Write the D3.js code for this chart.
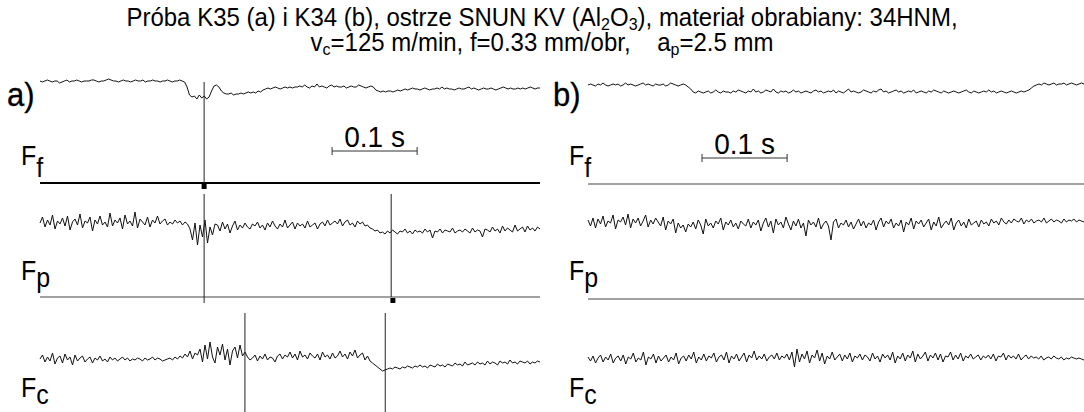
<!DOCTYPE html>
<html><head><meta charset="utf-8">
<script src="https://cdn.jsdelivr.net/npm/d3@7/dist/d3.min.js"></script>
<style>
body{margin:0;background:#fff}
svg{display:block}
text{font-family:"Liberation Sans",Arial,sans-serif;fill:#000}
</style>
</head><body>
<svg id="chart" width="1084" height="412"></svg>
<script>
// ---------- DATA (force signal, arbitrary units above each zero line) ----------
const titleLine1 = ["Próba K35 (a) i K34 (b), ostrze SNUN KV (Al", "2", "O", "3", "), materiał obrabiany: 34HNM,"];
const titleLine2 = ["v", "c", "=125 m/min, f=0.33 mm/obr,    a", "p", "=2.5 mm"];
const panelLabels = ["a)", "b)"];
const rowLabels = [["F","f"],["F","p"],["F","c"]];
const scaleLabel = "0.1 s";
const scaleBarLen = 0.1;             // s
const durationA = 0.588;             // s shown in panel a
const durationB = 0.583;             // s shown in panel b
const scaleBarStart = [0.3435, 0.134];  // s
const markersFfA = [0.193];
const markersFpA = [0.193, 0.413];
const markersFcA = [0.241, 0.406];
const squareMarkersA = [[0, 0.193], [1, 0.415]]; // [row, time]

const ffA = [102,101,102,103,102,101,102,102,100,101,102,103,101,102,102,103,102,101,102,102,
102,103,103,102,101,102,102,103,104,103,102,102,101,102,103,102,102,101,102,103,
102,102,103,101,102,102,103,102,102,101,102,102,103,102,101,102,102,103,102,101,
96,88,86,87,84,88,85,87,84,86,92,97,98,96,92,90,89,89,90,88,89,89,90,89,90,91,90,91,90,92,91,
93,94,95,94,95,96,95,94,95,96,95,96,95,96,
96,97,96,98,96,95,97,96,99,96,97,96,95,97,98,96,97,96,96,97,95,96,97,96,96,98,97,96,95,96,97,96,
93,92,91,92,91,92,92,91,92,93,92,93,
94,93,94,95,94,94,93,94,95,94,93,94,94,95,94,96,94,95,94,94,93,94,95,94,94,95,96,94,95,94,93,94,95,94,94,95,94,93,94,95,96,95,94,95,94,94,95,94,95,94,95,96,95,94,95,95];

const fpA = [74,80,70,77,72,82,68,76,73,79,71,81,67,75,78,72,83,69,76,74,80,66,77,73,81,72,75,70,84,71,77,74,79,68,82,73,76,71,85,69,78,75,72,80,70,77,74,81,73,76,78,72,75,73,77,74,76,72,75,73,
68,57,74,52,72,60,77,54,70,62,73,
72,66,75,68,73,64,71,76,67,72,69,74,70,68,73,71,75,69,72,67,74,70,76,71,68,73,70,77,69,72,75,68,74,71,73,69,76,70,72,74,68,73,75,71,77,72,74,76,73,78,71,75,77,72,74,70,76,73,75,71,72,69,68,66,67,
64,65,63,66,64,67,65,63,66,65,68,64,66,63,67,65,66,64,68,65,67,59,66,65,68,64,67,66,65,69,64,66,67,65,68,66,64,69,65,67,66,60,68,67,65,70,66,68,64,71,66,69,67,65,72,66,68,70,65,71,67,69,66,70,68];

const fcA = [53,57,50,55,51,59,48,54,56,49,58,52,55,47,57,51,54,56,50,53,55,49,54,52,56,51,53,50,55,52,54,51,53,55,52,54,51,53,52,54,53,51,54,52,53,55,52,54,53,51,52,53,54,52,55,53,56,54,58,55,61,53,59,57,
63,50,67,53,70,55,49,65,57,68,52,63,47,61,65,54,67,56,60,
55,52,54,57,51,56,53,58,52,55,54,50,56,58,53,57,55,60,54,58,52,61,55,57,53,59,56,54,58,52,60,55,57,53,59,54,56,61,55,58,53,60,56,62,54,57,59,52,56,51,49,47,45,43,41,
42,43,44,43,45,44,43,45,44,46,45,44,46,45,47,45,46,44,47,46,45,48,46,47,45,48,47,46,49,47,48,46,50,47,48,49,47,50,48,49,47,51,48,50,49,47,51,49,50,48,52,49,50,48,51,50,49,51,48,50,49,51,50];

const ffB = [99,100,99,98,100,99,101,99,98,99,100,99,100,98,99,101,99,100,99,98,99,100,101,99,100,99,98,100,99,99,100,98,99,101,100,99,98,99,100,99,97,95,
92,91,93,92,91,92,93,91,92,94,92,91,93,92,92,91,93,92,94,93,92,91,93,92,95,92,93,91,92,94,93,92,95,92,91,93,92,93,91,92,94,92,93,91,92,93,92,91,93,94,92,93,91,92,93,92,94,91,93,92,91,93,95,92,93,92,91,92,94,93,92,91,93,92,94,95,92,93,91,92,93,94,92,93,91,92,93,92,94,91,92,93,92,91,93,92,94,93,92,91,93,92,91,92,93,92,91,92,93,94,92,91,93,92,91,92,93,92,94,92,93,91,92,93,92,91,92,93,92,91,92,93,92,93,94,
96,98,99,100,99,101,100,99,100,101,99,100,100,101,99,100,101,100,99,100,101,100];

const fpB = [79,73,81,71,80,75,83,72,78,76,84,70,79,77,82,74,85,71,80,76,81,73,78,84,72,79,75,81,77,73,82,69,78,75,80,66,76,71,74,67,75,
72,77,70,79,74,65,80,73,76,71,78,75,81,69,77,74,79,72,76,70,78,75,73,80,71,77,74,79,68,76,81,72,78,66,80,74,77,71,82,75,
69,78,73,80,71,76,63,79,74,77,72,81,70,75,78,73,59,77,80,71,76,74,79,72,77,70,75,80,73,78,71,76,74,79,69,77,81,72,78,75,
80,71,76,73,79,67,77,74,81,70,78,75,79,72,76,80,69,77,73,82,71,75,78,74,81,69,76,79,73,77,71,80,74,76,78,72,79,75,77,73,
80,76,78,74,81,77,75,79,76,80,78,77,81,75,79,77,80,76,78,79,77,81,76,78,80,77,79,78,76,80,77,79,78,80,77,79,78,77];

const fcB = [55,51,56,49,54,57,50,55,52,58,49,54,56,51,57,48,55,53,59,50,54,52,60,47,55,53,58,49,56,51,54,57,50,55,52,59,48,54,56,51,
57,53,60,49,55,52,58,51,56,54,59,50,55,57,52,60,49,56,53,58,51,55,59,50,57,54,61,52,56,53,58,51,55,57,53,59,52,56,54,58,
52,60,45,63,50,58,53,61,49,57,54,62,51,59,48,56,53,60,52,55,58,51,57,53,59,50,56,54,58,52,57,55,51,59,53,56,50,58,54,57,
52,60,49,56,53,59,51,57,54,61,50,58,53,56,60,51,57,54,59,52,58,50,56,55,60,52,57,53,59,51,56,54,58,53,55,57,52,56,54,57,
53,58,51,56,55,59,52,57,54,56,53,58,52,55,57,53,56,54,55,53,56,52,54,55,53,56,54,53,55,52,54,53,55,54,53,54,53,52];

// ---------- LAYOUT ----------
const svg = d3.select("#chart");
const panels = [
  {x0:40,  x1:540,  dur:durationA, zero:[183,297,412], series:[ffA,fpA,fcA], axisW:[2,1], axisC:["#000","#444"]},
  {x0:588, x1:1084, dur:durationB, zero:[184,299,412], series:[ffB,fpB,fcB], axisW:[1,1], axisC:["#444","#444"]}
];
const labelPos = [ // F label baseline, subscript shift
  {y:165, dy:12}, {y:280, dy:7}, {y:397, dy:7}
];
const SY = 1.08;

function stretchedText(g, x, y, anchor, size) {
  return g.append("text")
    .attr("transform", `translate(${x},${y}) scale(1,${SY})`)
    .attr("text-anchor", anchor).attr("font-size", size);
}

function richLine(y, parts, size, subSize) {
  const t = stretchedText(svg, 542, y, "middle", size).style("white-space","pre");
  parts.forEach((s,i) => {
    const sub = (i===1||i===3);
    t.append("tspan").text(s).attr("font-size", sub?subSize:size)
      .attr("baseline-shift", sub ? "-25%" : null);
  });
}
richLine(26, titleLine1, 24, 16);
richLine(51, titleLine2, 24, 16);

panels.forEach((p, pi) => {
  const g = svg.append("g");
  const x = d3.scaleLinear().domain([0, p.dur]).range([p.x0, p.x1]);
  // panel label
  stretchedText(g, p.x0 - 33 + (pi? -2:0), 106, "start", 31)
    .attr("stroke","#000").attr("stroke-width",0.3).text(panelLabels[pi]);

  p.series.forEach((data, ri) => {
    const y = d3.scaleLinear().domain([0, 120]).range([p.zero[ri], p.zero[ri]-120]);
    const dt = p.dur / (data.length - 1);
    const line = d3.line().x((d,i) => x(i*dt)).y(d => y(d));
    g.append("path").datum(data).attr("d", line)
      .attr("fill","none").attr("stroke","#111").attr("stroke-width",1)
      .attr("stroke-linejoin","round");
    if (ri < 2) {
      g.append("line").attr("x1", p.x0).attr("x2", p.x1)
        .attr("y1", p.zero[ri]).attr("y2", p.zero[ri])
        .attr("stroke", p.axisC[ri]).attr("stroke-width", p.axisW[ri]);
    }
    const lx = p.x0 - 19;
    const lp = labelPos[ri];
    const lt = stretchedText(g, lx, lp.y, "start", 25);
    lt.append("tspan").text(rowLabels[ri][0]);
    lt.append("tspan").text(rowLabels[ri][1]).attr("dy", lp.dy / SY);
  });

  // scale bar
  const sb0 = x(scaleBarStart[pi]), sb1 = x(scaleBarStart[pi] + scaleBarLen);
  const sby = pi ? 158 : 151;
  g.append("line").attr("x1",sb0).attr("x2",sb1).attr("y1",sby).attr("y2",sby).attr("stroke","#333");
  [sb0, sb1].forEach(v => g.append("line").attr("x1",v).attr("x2",v).attr("y1",sby-4).attr("y2",sby+4).attr("stroke","#333"));
  stretchedText(g, (sb0+sb1)/2, sby - 4, "middle", 28).text(scaleLabel);

  if (pi === 0) {
    const vline = (t, ya, yb) => g.append("line").attr("x1", x(t)).attr("x2", x(t))
      .attr("y1", ya).attr("y2", yb).attr("stroke","#222").attr("stroke-width",1);
    markersFfA.forEach(t => vline(t, 82, 183));
    markersFpA.forEach((t,i) => vline(t, 194, i===0 ? 303 : 297));
    markersFcA.forEach(t => vline(t, 313, 412));
    squareMarkersA.forEach(([r,t]) => {
      g.append("rect").attr("x", x(t)-2.5).attr("y", p.zero[r]+1).attr("width",5).attr("height",5).attr("fill","#000");
    });
  }
});
</script>
</body></html>
